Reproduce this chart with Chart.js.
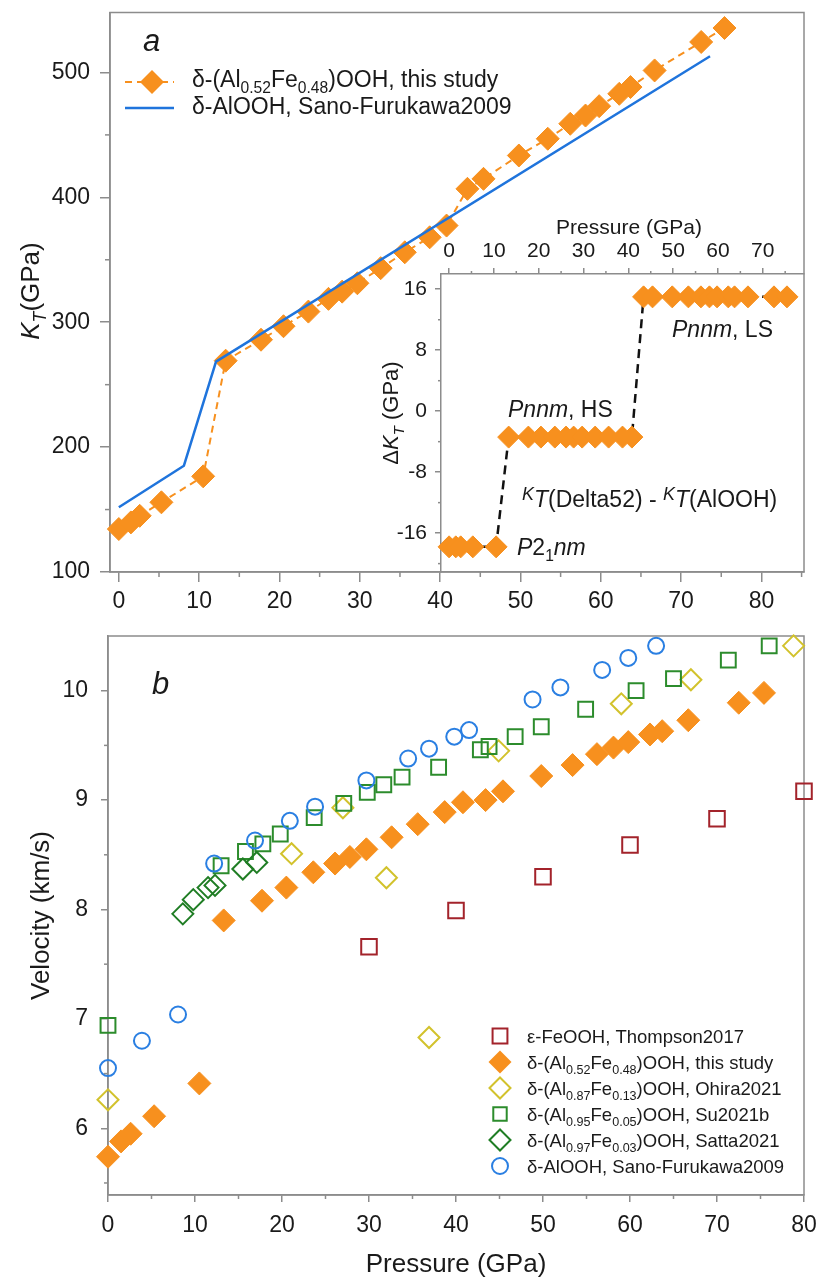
<!DOCTYPE html>
<html>
<head>
<meta charset="utf-8">
<script src="https://cdn.jsdelivr.net/npm/chart.js@4.4.0/dist/chart.umd.min.js"></script>
<style>
body { margin: 0; background: #fff; }
#wrap { position: relative; width: 817px; height: 1280px; }
canvas { position: absolute; left: 0; }
</style>
</head>
<body>
<div id="wrap">
  <canvas id="topChart" width="817" height="615" style="top:0"></canvas>
  <canvas id="insetChart" width="817" height="615" style="top:0"></canvas>
  <canvas id="velChart" width="817" height="665" style="top:615px"></canvas>
</div>
<script>
/* data */
const pressure = [0, 1.5, 2.6, 5.3, 10.5, 13.3, 17.7, 20.5, 23.6, 26.1, 27.8, 29.7, 32.6, 35.6, 38.7, 40.8,
                  43.4, 45.4, 49.8, 53.4, 56.2, 58.1, 59.8, 62.3, 63.7, 66.7, 72.5, 75.4];
const ktThisStudy = [134.4, 139.7, 145, 155.8, 176.6, 269.2, 286, 296.8, 308.5, 318.7, 324.5, 331.2, 343.3, 356, 368, 377.4,
                     406.8, 414.8, 433.5, 446.9, 458.9, 465.5, 473, 482.9, 488.3, 501.6, 524.4, 535.6];
const alooh_P = [0, 8.1, 12.1, 73.6];
const alooh_KT = [151.8, 185.1, 268.4, 513];
const deltaKT = [-17.8, -17.8, -17.8, -17.8, -17.8,
                 -3.4, -3.4, -3.4, -3.4, -3.4, -3.4, -3.4, -3.4, -3.4, -3.4, -3.4,
                 15, 15, 15, 15, 15, 15, 15, 15, 15, 15, 15, 15];

const vThisStudy = [5.74, 5.88, 5.95, 6.11, 6.41, 7.90, 8.08, 8.20, 8.34, 8.42, 8.48, 8.55, 8.66, 8.78, 8.89, 8.98,
                    9.00, 9.08, 9.22, 9.32, 9.42, 9.48, 9.53, 9.60, 9.63, 9.73, 9.89, 9.98];
const thompson_P = [30, 40, 50, 60, 70, 80];
const thompson_V = [7.66, 7.99, 8.30, 8.59, 8.83, 9.08];
const ohira_P = [0, 21.1, 27.0, 32.0, 36.9, 44.9, 59.0, 67.0, 78.8];
const ohira_V = [6.26, 8.51, 8.93, 8.29, 6.83, 9.45, 9.88, 10.10, 10.41];
const su_P = [0, 13.0, 15.8, 17.8, 19.8, 23.7, 27.1, 29.8, 31.7, 33.8, 38.0, 42.8, 43.8, 46.8, 49.8, 54.9, 60.7, 65.0, 71.3, 76.0];
const su_V = [6.94, 8.40, 8.53, 8.60, 8.69, 8.84, 8.97, 9.07, 9.14, 9.21, 9.30, 9.46, 9.49, 9.58, 9.67, 9.83, 10.00, 10.11, 10.28, 10.41];
const satta_P = [8.6, 9.8, 11.5, 12.3, 15.5, 17.1];
const satta_V = [7.96, 8.09, 8.20, 8.22, 8.37, 8.43];
const sano_P = [0, 3.9, 8.05, 12.2, 16.9, 20.9, 23.8, 29.7, 34.5, 36.9, 39.8, 41.5, 48.8, 52.0, 56.8, 59.8, 63.0];
const sano_V = [6.55, 6.80, 7.04, 8.42, 8.63, 8.81, 8.94, 9.18, 9.38, 9.47, 9.58, 9.64, 9.92, 10.03, 10.19, 10.30, 10.41];

const FONT = '"Liberation Sans", Arial, Helvetica, sans-serif';
const TEXT = '#1a1a1a';
const AXIS = '#8c8c8c';
const ORANGE = '#f7901e';
const BLUE = '#1f74dc';
const RED = '#a3232b';
const YELLOW = '#d2c22c';
const GREEN = '#2c8c2c';
const GREEN2 = '#1f7d24';
const CIRCLE = '#2a7fe2';

function pts(xs, ys) { return xs.map((x, i) => ({x: x, y: ys[i]})); }

function range(a, b, step) {
    const out = [];
    for (let v = a; v <= b + 1e-9; v += step) out.push(+v.toFixed(3));
    return out;
}

/* text with italic / subscript parts */
function rich(ctx, x, y, parts, size, align) {
    let w = 0;
    const m = parts.map(p => {
        const f = p[1] || '';
        let sz = size, dy = 0;
        if (f.includes('s')) { sz = size * 0.68; dy = size * 0.28; }
        if (f.includes('k')) { sz = size * 0.78; dy = -size * 0.3; }
        const font = (f.includes('i') ? 'italic ' : '') + sz + 'px ' + FONT;
        ctx.font = font;
        const tw = ctx.measureText(p[0]).width;
        w += tw;
        return {t: p[0], font: font, tw: tw, dy: dy};
    });
    let cx = align === 'center' ? x - w / 2 : x;
    ctx.textAlign = 'left';
    ctx.textBaseline = 'alphabetic';
    ctx.fillStyle = TEXT;
    m.forEach(p => { ctx.font = p.font; ctx.fillText(p.t, cx, y + p.dy); cx += p.tw; });
}

function richV(ctx, cx, cy, parts, size) {
    ctx.save();
    ctx.translate(cx, cy);
    ctx.rotate(-Math.PI / 2);
    rich(ctx, 0, size * 0.35, parts, size, 'center');
    ctx.restore();
}

function marker(ctx, style, x, y, r, color, filled) {
    ctx.save();
    ctx.beginPath();
    if (style === 'circle') ctx.arc(x, y, r, 0, Math.PI * 2);
    else if (style === 'rect') { const h = r * Math.SQRT1_2; ctx.rect(x - h, y - h, 2 * h, 2 * h); }
    else { ctx.moveTo(x - r, y); ctx.lineTo(x, y - r); ctx.lineTo(x + r, y); ctx.lineTo(x, y + r); ctx.closePath(); }
    if (filled) { ctx.fillStyle = color; ctx.fill(); }
    else { ctx.strokeStyle = color; ctx.lineWidth = 2; ctx.stroke(); }
    ctx.restore();
}

/* box round the plot area */
const frame = {
    id: 'frame',
    beforeDatasetsDraw(chart) {
        const a = chart.chartArea, ctx = chart.ctx;
        ctx.save();
        ctx.strokeStyle = AXIS;
        ctx.lineWidth = 1.5;
        ctx.strokeRect(a.left, a.top, a.right - a.left, a.bottom - a.top);
        ctx.restore();
    }
};

/* short unlabeled ticks between the major ones */
function minorTicks(list) {
    return {
        id: 'minorTicks',
        afterDraw(chart) {
            const ctx = chart.ctx;
            ctx.save();
            ctx.strokeStyle = AXIS;
            ctx.lineWidth = 1.5;
            list.forEach(m => {
                const s = chart.scales[m.axis];
                m.values.forEach(v => {
                    if (v < s.min || v > s.max) return;
                    const p = s.getPixelForValue(v);
                    ctx.beginPath();
                    if (s.isHorizontal()) {
                        const top = s.options.position === 'top';
                        const y0 = top ? s.bottom : s.top;
                        ctx.moveTo(p, y0);
                        ctx.lineTo(p, y0 + (top ? -m.len : m.len));
                    } else {
                        ctx.moveTo(s.right, p);
                        ctx.lineTo(s.right - m.len, p);
                    }
                    ctx.stroke();
                });
            });
            ctx.restore();
        }
    };
}

// fixed axis box, no extra room for overhanging labels
function fixSize(dim, val) {
    return function (s) {
        s[dim] = val;
        s.paddingTop = 0; s.paddingBottom = 0; s.paddingLeft = 0; s.paddingRight = 0;
    };
}

function axisOpts(min, max, step, size, tickLen, pad, extra) {
    return Object.assign({
        type: 'linear',
        min: min,
        max: max,
        border: {color: AXIS, width: 1.5},
        grid: {drawOnChartArea: false, color: AXIS, lineWidth: 1.5, tickLength: tickLen},
        ticks: {stepSize: step, includeBounds: false, padding: pad, color: TEXT, font: {family: FONT, size: size}}
    }, extra);
}

/* Top panel: K_T */
const topText = {
    id: 'topText',
    afterDraw(chart) {
        const ctx = chart.ctx;
        rich(ctx, 143, 51, [['a', 'i']], 31);
        // legend
        ctx.save();
        ctx.strokeStyle = ORANGE; ctx.lineWidth = 2; ctx.setLineDash([7, 5]);
        ctx.beginPath(); ctx.moveTo(125, 82); ctx.lineTo(174, 82); ctx.stroke();
        ctx.setLineDash([]);
        ctx.strokeStyle = BLUE; ctx.lineWidth = 2.5;
        ctx.beginPath(); ctx.moveTo(125, 108); ctx.lineTo(174, 108); ctx.stroke();
        ctx.restore();
        marker(ctx, 'rectRot', 152, 82, 12, ORANGE, true);
        rich(ctx, 192, 87, [['δ-(Al'], ['0.52', 's'], ['Fe'], ['0.48', 's'], [')OOH, this study']], 23);
        rich(ctx, 192, 114, [['δ-AlOOH, Sano-Furukawa2009']], 23);
        richV(ctx, 30, 291, [['K', 'i'], ['T', 'is'], ['(GPa)']], 26);
    }
};

new Chart(document.getElementById('topChart'), {
    type: 'scatter',
    data: {
        datasets: [{
            label: 'δ-AlOOH, Sano-Furukawa2009',
            data: pts(alooh_P, alooh_KT),
            showLine: true,
            borderColor: BLUE,
            borderWidth: 2.5,
            pointRadius: 0,
            clip: false
        }, {
            label: 'δ-(Al0.52Fe0.48)OOH, this study',
            data: pts(pressure, ktThisStudy),
            showLine: true,
            borderColor: ORANGE,
            borderWidth: 2,
            borderDash: [7, 5],
            pointStyle: 'rectRot',
            pointRadius: 11.5,
            pointBackgroundColor: ORANGE,
            pointBorderColor: ORANGE,
            pointBorderWidth: 1,
            clip: false
        }]
    },
    options: {
        responsive: false,
        animation: false,
        devicePixelRatio: 1,
        layout: {padding: {top: 12, right: 13, left: 0, bottom: 0}},
        plugins: {legend: {display: false}, tooltip: {enabled: false}},
        scales: {
            x: axisOpts(-1.1, 85.3, 10, 23, 10, 6, {afterFit: fixSize('height', 43)}),
            y: axisOpts(100, 548, 100, 23, 10, 10, {afterFit: fixSize('width', 110)})
        }
    },
    plugins: [frame, topText, minorTicks([
        {axis: 'x', values: range(5, 85, 10), len: 5},
        {axis: 'y', values: range(150, 550, 100), len: 5}
    ])]
});

/* Inset: Delta K_T vs pressure (top axis) */
const insetText = {
    id: 'insetText',
    afterDraw(chart) {
        const ctx = chart.ctx;
        rich(ctx, 629, 234, [['Pressure (GPa)']], 21, 'center');
        richV(ctx, 390, 413, [['Δ'], ['K', 'i'], ['T', 'is'], [' (GPa)']], 22);
        rich(ctx, 672, 337, [['Pnnm', 'i'], [', LS']], 23);
        rich(ctx, 508, 417, [['Pnnm', 'i'], [', HS']], 23);
        rich(ctx, 522, 507, [['K', 'ik'], ['T', 'i'], ['(Delta52) - '], ['K', 'ik'], ['T', 'i'], ['(AlOOH)']], 23);
        rich(ctx, 517, 555, [['P', 'i'], ['2'], ['1', 's'], ['nm', 'i']], 23);
    }
};

new Chart(document.getElementById('insetChart'), {
    type: 'scatter',
    data: {
        datasets: [{
            label: 'K_T(Delta52) - K_T(AlOOH)',
            data: pts(pressure, deltaKT),
            showLine: true,
            borderColor: '#111',
            borderWidth: 2.5,
            borderDash: [9, 6],
            pointStyle: 'rectRot',
            pointRadius: 11,
            pointBackgroundColor: ORANGE,
            pointBorderColor: ORANGE,
            pointBorderWidth: 1,
            clip: false
        }]
    },
    options: {
        responsive: false,
        animation: false,
        devicePixelRatio: 1,
        layout: {padding: {top: 0, right: 13, left: 0, bottom: 43}},
        plugins: {legend: {display: false}, tooltip: {enabled: false}},
        scales: {
            x: axisOpts(-1.8, 79.2, 10, 21, 6, 4, {position: 'top', afterFit: fixSize('height', 274)}),
            y: axisOpts(-21.1, 18, 8, 21, 6, 8, {afterFit: fixSize('width', 441)})
        }
    },
    plugins: [insetText, minorTicks([
        {axis: 'x', values: range(5, 75, 10), len: 3},
        {axis: 'y', values: range(-20, 12, 8), len: 3}
    ])]
});

/* Bottom panel: velocities */
const legendRows = [
    {style: 'rect', color: RED, filled: false, r: 10.5, parts: [['ε-FeOOH, Thompson2017']]},
    {style: 'rectRot', color: ORANGE, filled: true, r: 11.5, parts: [['δ-(Al'], ['0.52', 's'], ['Fe'], ['0.48', 's'], [')OOH, this study']]},
    {style: 'rectRot', color: YELLOW, filled: false, r: 10.5, parts: [['δ-(Al'], ['0.87', 's'], ['Fe'], ['0.13', 's'], [')OOH, Ohira2021']]},
    {style: 'rect', color: GREEN, filled: false, r: 9.5, parts: [['δ-(Al'], ['0.95', 's'], ['Fe'], ['0.05', 's'], [')OOH, Su2021b']]},
    {style: 'rectRot', color: GREEN2, filled: false, r: 10.5, parts: [['δ-(Al'], ['0.97', 's'], ['Fe'], ['0.03', 's'], [')OOH, Satta2021']]},
    {style: 'circle', color: CIRCLE, filled: false, r: 8, parts: [['δ-AlOOH, Sano-Furukawa2009']]}
];

const velText = {
    id: 'velText',
    afterDraw(chart) {
        const ctx = chart.ctx;
        rich(ctx, 152, 79, [['b', 'i']], 31);
        legendRows.forEach((row, i) => {
            const y = 421 + i * 26;
            marker(ctx, row.style, 500, y, row.r, row.color, row.filled);
            rich(ctx, 527, y + 6.5, row.parts, 18.5);
        });
    }
};

function openSet(label, xs, ys, style, r, color) {
    return {
        label: label,
        data: pts(xs, ys),
        pointStyle: style,
        pointRadius: r,
        pointBackgroundColor: 'rgba(0,0,0,0)',
        pointBorderColor: color,
        pointBorderWidth: 2,
        clip: false
    };
}

new Chart(document.getElementById('velChart'), {
    type: 'scatter',
    data: {
        datasets: [
            openSet('δ-AlOOH, Sano-Furukawa2009', sano_P, sano_V, 'circle', 8, CIRCLE),
            openSet('δ-(Al0.97Fe0.03)OOH, Satta2021', satta_P, satta_V, 'rectRot', 10.5, GREEN2),
            openSet('δ-(Al0.95Fe0.05)OOH, Su2021b', su_P, su_V, 'rect', 10.5, GREEN),
            openSet('δ-(Al0.87Fe0.13)OOH, Ohira2021', ohira_P, ohira_V, 'rectRot', 10.5, YELLOW),
            {
                label: 'δ-(Al0.52Fe0.48)OOH, this study',
                data: pts(pressure, vThisStudy),
                pointStyle: 'rectRot',
                pointRadius: 11.5,
                pointBackgroundColor: ORANGE,
                pointBorderColor: ORANGE,
                pointBorderWidth: 1,
                clip: false
            },
            openSet('ε-FeOOH, Thompson2017', thompson_P, thompson_V, 'rect', 11, RED)
        ]
    },
    options: {
        responsive: false,
        animation: false,
        devicePixelRatio: 1,
        layout: {padding: {top: 21, right: 13, left: 0, bottom: 0}},
        plugins: {legend: {display: false}, tooltip: {enabled: false}},
        scales: {
            x: axisOpts(0, 80, 10, 23, 7, 10, {
                afterFit: fixSize('height', 85),
                title: {display: true, text: 'Pressure (GPa)', color: TEXT, font: {family: FONT, size: 26}, padding: {top: 0, bottom: 0}}
            }),
            y: axisOpts(5.39, 10.5, 1, 23, 7, 13, {
                afterFit: fixSize('width', 108),
                title: {display: true, text: 'Velocity (km/s)', color: TEXT, font: {family: FONT, size: 26}, padding: {top: 26, bottom: 0}}
            })
        }
    },
    plugins: [frame, velText, minorTicks([
        {axis: 'x', values: range(5, 75, 10), len: 4},
        {axis: 'y', values: range(5.5, 9.5, 1), len: 4}
    ])]
});
</script>
</body>
</html>
